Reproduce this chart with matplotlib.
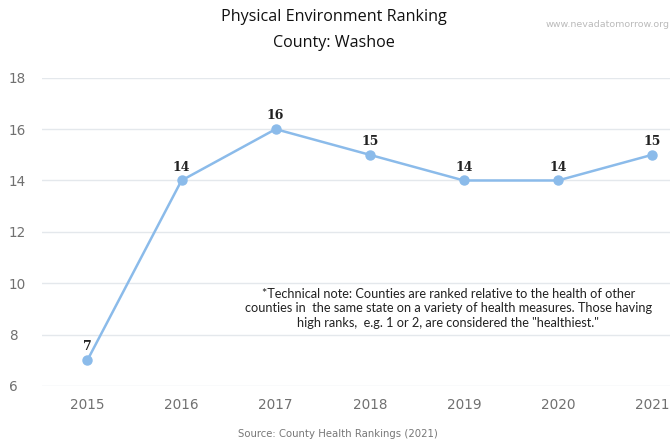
import matplotlib.pyplot as plt

years = [2015, 2016, 2017, 2018, 2019, 2020, 2021]
ranks = [7, 14, 16, 15, 14, 14, 15]
y_ticks = [6, 8, 10, 12, 14, 16, 18]

title_lines = ["Physical Environment Ranking", "County: Washoe"]
note = ("*Technical note: Counties are ranked relative to the health of other\n"
        "counties in  the same state on a variety of health measures. Those having\n"
        "high ranks,  e.g. 1 or 2, are considered the \"healthiest.\"")
source = "Source: County Health Rankings (2021)"

fig = plt.figure(figsize=(6.7, 4.42), dpi=100)
ax = fig.add_axes([0.063, 0.127, 0.937, 0.697])

line_color = "#8bbbea"
ax.plot(years, ranks, color=line_color, lw=1.8, marker="o", ms=6.5, zorder=3)
for x, y in zip(years, ranks):
    ax.annotate(str(y), (x, y), xytext=(0, 5), textcoords="offset points",
                ha="center", va="bottom", fontsize=9, fontweight="bold",
                family="DejaVu Serif", color="#222222")

ax.set_xlim(2014.52, 2021.19)
ax.set_ylim(6, 18)
ax.set_yticks(y_ticks)
ax.set_xticks(years)
ax.grid(axis="y", color="#e4e8ec", lw=1)
ax.grid(axis="x", visible=False)
for s in ax.spines.values():
    s.set_visible(False)
ax.tick_params(length=0, labelsize=9.8, colors="#707070")
ax.tick_params(axis="y", pad=24)
ax.tick_params(axis="x", pad=9)
for lab in ax.get_yticklabels():
    lab.set_horizontalalignment("left")

fig.text(0.498, 0.962, title_lines[0], ha="center", va="center",
         fontsize=11.6, family="Open Sans", color="#111111")
fig.text(0.498, 0.903, title_lines[1], ha="center", va="center",
         fontsize=11.6, family="Open Sans", color="#111111")
fig.text(1.0, 0.944, "www.nevadatomorrow.org", ha="right", va="center",
         fontsize=6.8, color="#bbbbbb")

fig.text(0.669, 0.303, note, ha="center", va="center", fontsize=9.2,
         family="Lato", color="#222222", linespacing=1.25,
         bbox=dict(facecolor="white", edgecolor="none", pad=2))

fig.text(0.505, 0.018, source, ha="center", va="center", fontsize=7.3,
         color="#777777")

fig.savefig("out.png", dpi=100)
